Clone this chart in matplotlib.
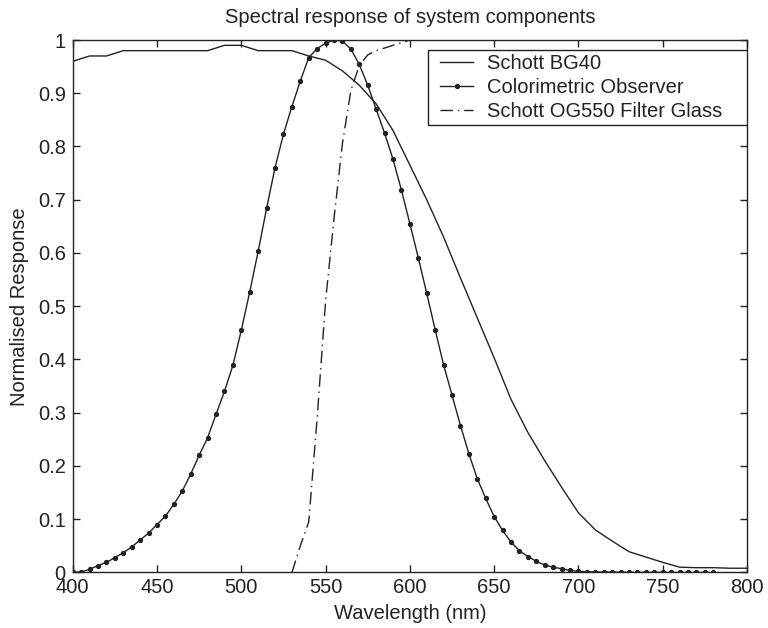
import matplotlib
matplotlib.use("Agg")
import matplotlib.pyplot as plt
from matplotlib.patches import Rectangle

plt.rcParams['font.family'] = ['Liberation Sans', 'DejaVu Sans']

# Schott BG40 (10 nm steps)
bg40_wl = [400, 410, 420, 430, 440, 450, 460, 470, 480, 490, 500, 510, 520, 530, 540,
           550, 560, 570, 580, 590, 600, 610, 620, 630, 640, 650, 660, 670, 680, 690,
           700, 710, 720, 730, 740, 750, 760, 770, 780, 790, 800]
bg40_val = [0.96, 0.97, 0.97, 0.98, 0.98, 0.98, 0.98, 0.98, 0.98, 0.99, 0.99, 0.98, 0.98, 0.98, 0.97,
            0.962, 0.942, 0.915, 0.88, 0.83, 0.765, 0.70, 0.63, 0.553, 0.478, 0.403, 0.325, 0.263, 0.21, 0.16,
            0.112, 0.08, 0.059, 0.039, 0.029, 0.019, 0.01, 0.009, 0.009, 0.008, 0.008]

# Colorimetric observer (5 nm steps)
obs_wl = list(range(400, 785, 5))
obs_val = [0.0, 0.001, 0.006, 0.013, 0.019, 0.028, 0.037, 0.048, 0.061, 0.074,
           0.090, 0.106, 0.128, 0.153, 0.185, 0.220, 0.253, 0.297, 0.340, 0.389,
           0.455, 0.527, 0.603, 0.684, 0.760, 0.823, 0.875, 0.923, 0.967, 0.984,
           0.994, 1.0, 0.998, 0.983, 0.954, 0.915, 0.870, 0.825, 0.776, 0.718,
           0.655, 0.591, 0.524, 0.456, 0.390, 0.333, 0.276, 0.223, 0.176, 0.139,
           0.105, 0.079, 0.057, 0.041, 0.030, 0.021, 0.014, 0.010, 0.007, 0.004,
           0.002, 0.0015, 0.001, 0.0008, 0.0006, 0.0005, 0.0004, 0.0003, 0.0002, 0.0002,
           0.0001, 0.0001, 0.0001, 0.0, 0.0, 0.0, 0.0]

# Schott OG550 filter glass
og_wl = [530, 535, 540, 545, 550, 555, 560, 565, 570, 575, 580, 585, 590, 595, 600]
og_val = [0.0, 0.05, 0.095, 0.29, 0.51, 0.665, 0.806, 0.905, 0.952, 0.972, 0.98, 0.985, 0.99, 0.995, 1.0]

xticks = [400, 450, 500, 550, 600, 650, 700, 750, 800]
yticks = [0, 0.1, 0.2, 0.3, 0.4, 0.5, 0.6, 0.7, 0.8, 0.9, 1]
ytick_labels = ['0', '0.1', '0.2', '0.3', '0.4', '0.5', '0.6', '0.7', '0.8', '0.9', '1']

FS = 14.5
fig = plt.figure(figsize=(7.68, 6.28), dpi=100)
ax = fig.add_axes([0.0947, 0.0884, 0.9727 - 0.0947, 0.9363 - 0.0884])

col = '#222222'
ax.plot(bg40_wl, bg40_val, '-', color=col, lw=1.0, label='Schott BG40')
ax.plot(obs_wl, obs_val, '-', color=col, lw=1.0, marker='o', markersize=2.8,
        label='Colorimetric Observer')
l3, = ax.plot(og_wl, og_val, color=col, lw=1.0, label='Schott OG550 Filter Glass')
l3.set_dashes([9, 3.5, 1, 3.5])

ax.set_xlim(400, 800)
ax.set_ylim(0, 1)
ax.set_xticks(xticks)
ax.set_xticklabels([str(t) for t in xticks])
ax.set_yticks(yticks)
ax.set_yticklabels(ytick_labels)
ax.tick_params(direction='in', length=5, width=1, top=True, right=True,
               labelsize=FS, colors=col)
ax.tick_params(axis='x', pad=4)
ax.tick_params(axis='y', pad=5)
for s in ax.spines.values():
    s.set_linewidth(1.0)
    s.set_color(col)

ax.set_title('Spectral response of system components', fontsize=FS, color=col, pad=12)
ax.set_xlabel('Wavelength (nm)', fontsize=FS, color=col, labelpad=5)
ax.set_ylabel('Normalised Response', fontsize=FS, color=col, labelpad=6)

# legend box (frame drawn separately to get MATLAB-like padding)
box = Rectangle((0.527, 0.840), 0.473, 0.141, transform=ax.transAxes,
                facecolor='white', edgecolor=col, linewidth=1.0, zorder=4)
ax.add_patch(box)
leg = ax.legend(loc='upper left', bbox_to_anchor=(0.5447, 0.9736), fontsize=FS,
                frameon=False, handlelength=1.65, handletextpad=0.68,
                borderaxespad=0.0, labelspacing=0.25, borderpad=0.0)
leg.set_zorder(5)
for t in leg.get_texts():
    t.set_color(col)

fig.savefig('out.png', dpi=100)
